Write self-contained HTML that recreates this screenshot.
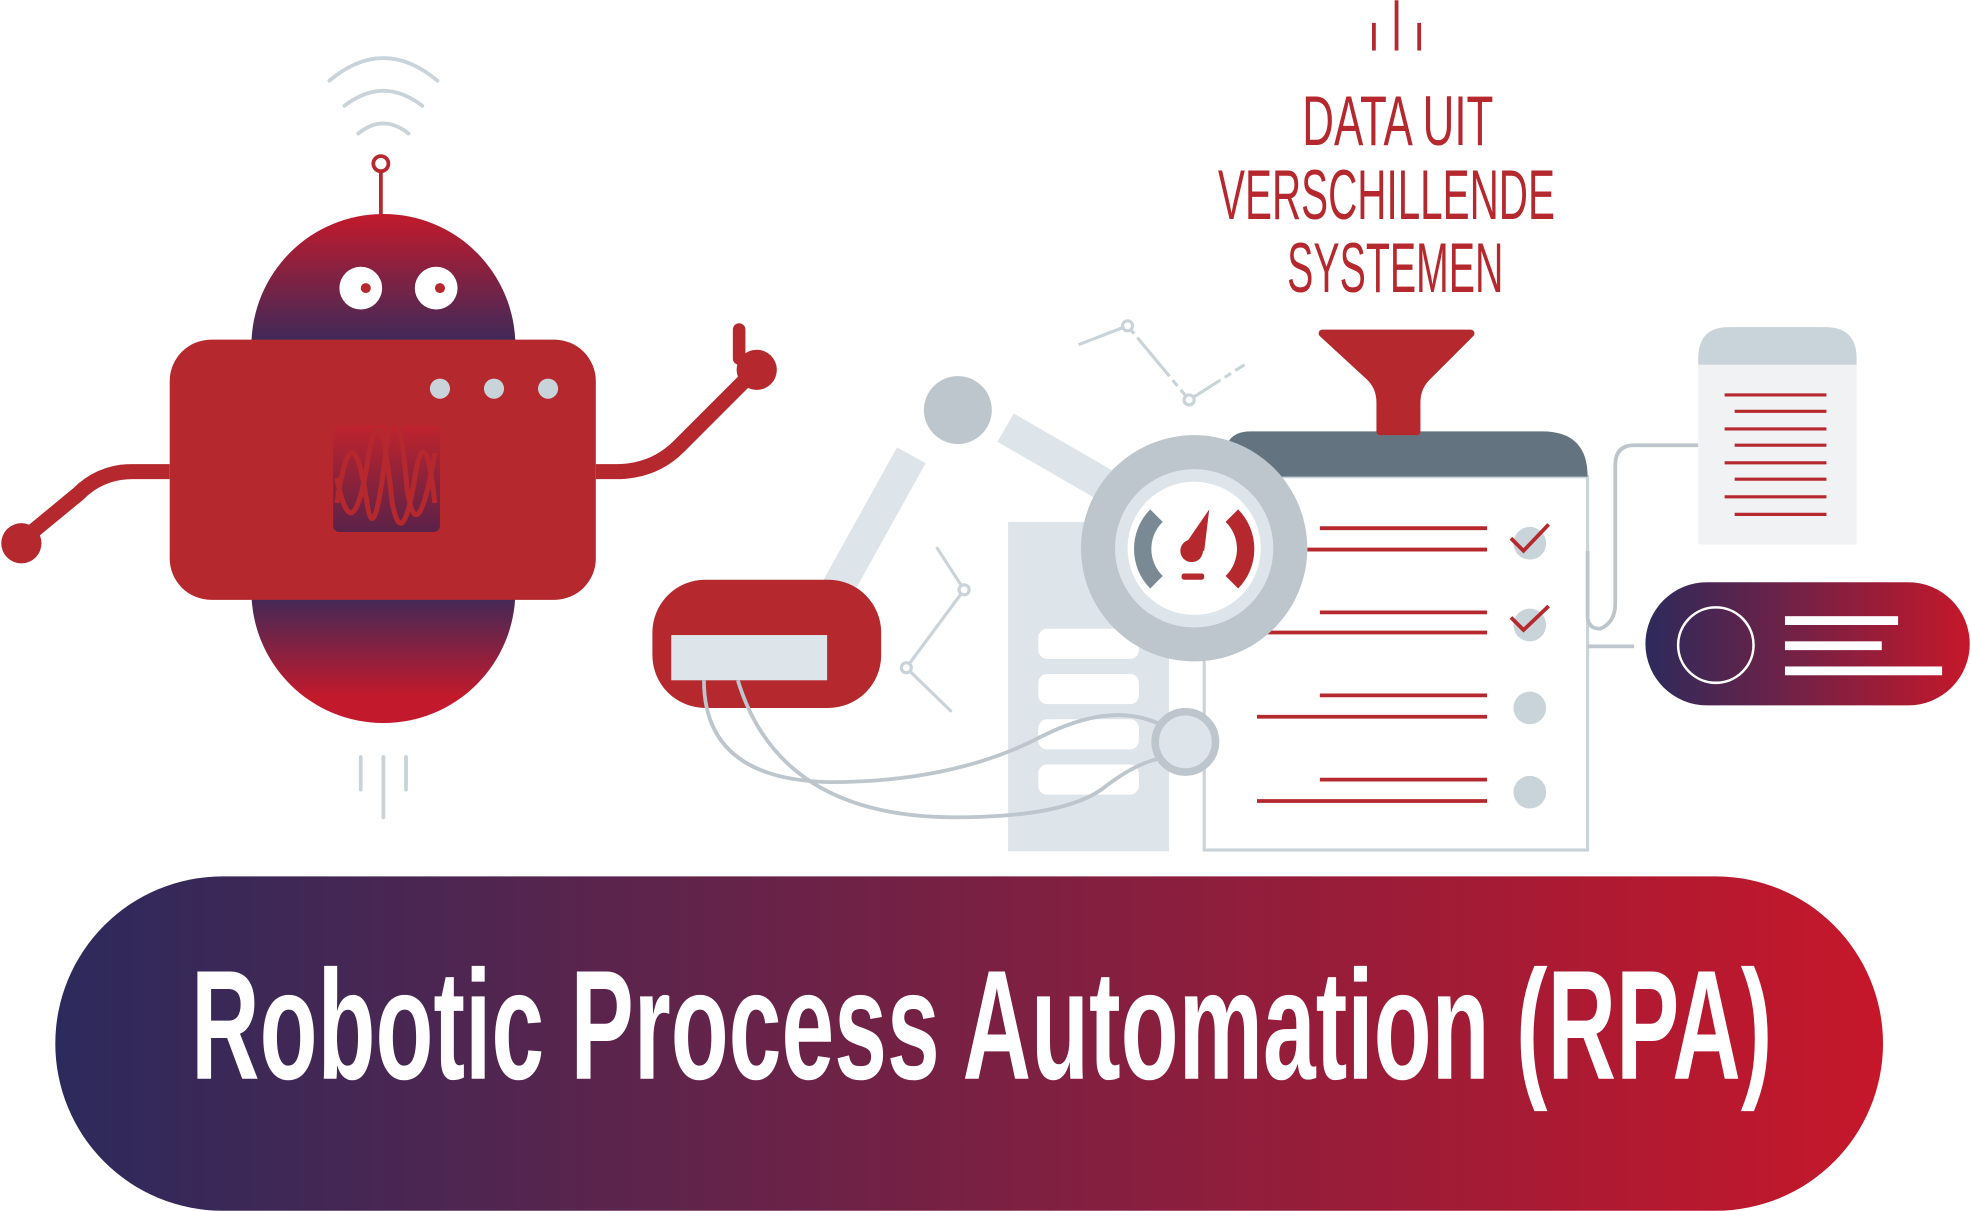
<!DOCTYPE html>
<html><head><meta charset="utf-8"><style>html,body{margin:0;padding:0;background:#fff}svg{display:block}</style></head><body>
<svg width="1971" height="1211" viewBox="0 0 1568 963" xmlns="http://www.w3.org/2000/svg">
<defs>
<linearGradient id="ban" x1="0" x2="1"><stop offset="0" stop-color="#2c2a5c"/><stop offset="1" stop-color="#c6172a"/></linearGradient>
<linearGradient id="head" x1="0" y1="0" x2="0" y2="1"><stop offset="0" stop-color="#c21a2c"/><stop offset="1" stop-color="#3a2a5a"/></linearGradient>
<linearGradient id="foot" x1="0" y1="0" x2="0" y2="1"><stop offset="0" stop-color="#3a2a5a"/><stop offset="0.8" stop-color="#c21a2c"/></linearGradient>
<linearGradient id="scr" x1="0" y1="0" x2="0" y2="1"><stop offset="0" stop-color="#c0232d"/><stop offset="1" stop-color="#5a2248"/></linearGradient>
</defs>
<!-- banner -->
<rect x="44" y="697" width="1454" height="266" rx="133" fill="url(#ban)"/>
<text x="152" y="858" font-family="Liberation Sans Narrow, Liberation Sans, sans-serif" font-weight="bold" font-size="124" fill="#fff" textLength="1258" lengthAdjust="spacingAndGlyphs">Robotic Process Automation (RPA)</text>
<!-- robot -->
<g fill="none" stroke="#c9d3da" stroke-width="3" stroke-linecap="round">
<path d="M262 64 Q305 28 348 64"/><path d="M274 84 Q305 60 336 84"/><path d="M285 106 Q305 90 325 106"/>
<path d="M287 602 V628 M305 602 V650 M323 602 V628"/>
</g>
<line x1="303" y1="136" x2="303" y2="175" stroke="#b5282d" stroke-width="3"/>
<circle cx="303" cy="130" r="6" fill="#fff" stroke="#b5282d" stroke-width="3"/>
<path d="M200 275 A105 105 0 0 1 410 275 Z" fill="url(#head)"/>
<path d="M200 470 A105 105 0 0 0 410 470 Z" fill="url(#foot)"/>
<path d="M135 375 H105 Q80 375 62 393 L17 430" fill="none" stroke="#b5282d" stroke-width="12"/>
<circle cx="17" cy="432" r="16" fill="#b5282d"/>
<path d="M474 375 H490 Q520 375 540 355 L600 295" fill="none" stroke="#b5282d" stroke-width="12"/>
<line x1="588" y1="262" x2="588" y2="285" stroke="#b5282d" stroke-width="10" stroke-linecap="round"/>
<circle cx="602" cy="294" r="16" fill="#b5282d"/>
<rect x="135" y="270" width="339" height="207" rx="33" fill="#b5282d"/>
<circle cx="287" cy="229" r="17" fill="#fff"/><circle cx="291" cy="229" r="4" fill="#b5282d"/>
<circle cx="347" cy="229" r="17" fill="#fff"/><circle cx="350" cy="229" r="4" fill="#b5282d"/>
<circle cx="350" cy="309" r="8" fill="#c9d3da"/><circle cx="393" cy="309" r="8" fill="#c9d3da"/><circle cx="436" cy="309" r="8" fill="#c9d3da"/>
<rect x="265" y="338" width="85" height="85" rx="5" fill="url(#scr)"/>
<path d="M268 400 Q280 320 292 400 Q298 440 308 350 Q316 300 324 390 Q332 440 346 360" fill="none" stroke="#b5282d" stroke-width="4"/>
<path d="M268 380 Q280 440 292 370 Q302 300 312 400 Q320 440 330 380 Q338 330 346 400" fill="none" stroke="#b5282d" stroke-width="4"/>
<!-- top text -->
<g stroke="#b5282d" stroke-width="3"><line x1="1093" y1="18" x2="1093" y2="40"/><line x1="1111" y1="0" x2="1111" y2="40"/><line x1="1129" y1="18" x2="1129" y2="40"/></g>
<g font-family="Liberation Sans Narrow, Liberation Sans, sans-serif" font-size="56" fill="#b5282d" text-anchor="middle">
<text x="1112" y="115" textLength="152" lengthAdjust="spacingAndGlyphs">DATA UIT</text>
<text x="1103" y="174" textLength="268" lengthAdjust="spacingAndGlyphs">VERSCHILLENDE</text>
<text x="1110" y="232" textLength="172" lengthAdjust="spacingAndGlyphs">SYSTEMEN</text>
</g>
<!-- small connector lines -->
<g fill="none" stroke="#c9d3da" stroke-width="2.5">
<path d="M858 274 L897 259 L946 318 L990 290" stroke-dasharray="40 4 6 4"/>
<path d="M745 435 L767 469 L721 531 L757 566"/>
</g>
<g fill="#fff" stroke="#c9d3da" stroke-width="2.5"><circle cx="897" cy="259" r="4"/><circle cx="946" cy="318" r="4"/><circle cx="767" cy="469" r="4"/><circle cx="721" cy="531" r="4"/></g>
<!-- arm -->
<path d="M665 470 L725 362" stroke="#dde4ea" stroke-width="26"/>
<path d="M800 340 L890 392" stroke="#dde4ea" stroke-width="26"/>
<circle cx="762" cy="326" r="27" fill="#bcc6cc"/>
<!-- left doc -->
<rect x="802" y="415" width="128" height="262" fill="#dde4ea"/>
<g fill="#fff"><rect x="826" y="500" width="80" height="24" rx="7"/><rect x="826" y="536" width="80" height="24" rx="7"/><rect x="826" y="572" width="80" height="24" rx="7"/><rect x="826" y="608" width="80" height="24" rx="7"/></g>
<!-- window -->
<rect x="958" y="379" width="305" height="297" fill="#fff" stroke="#c9d3da" stroke-width="2.5"/>
<path d="M975 379 V362 Q975 343 995 343 H1227 Q1263 343 1263 379 Z" fill="#637480"/>
<path d="M1052 265 H1170 L1135 300 Q1127 308 1127 320 V343 H1098 V320 Q1098 308 1090 300 Z" fill="#b5282d" stroke="#b5282d" stroke-width="6" stroke-linejoin="round"/>
<g stroke="#b5282d" stroke-width="3">
<line x1="1050" y1="420" x2="1183" y2="420"/><line x1="1040" y1="437" x2="1183" y2="437"/>
<line x1="1050" y1="487" x2="1183" y2="487"/><line x1="1005" y1="503" x2="1183" y2="503"/>
<line x1="1050" y1="553" x2="1183" y2="553"/><line x1="1000" y1="570" x2="1183" y2="570"/>
<line x1="1050" y1="620" x2="1183" y2="620"/><line x1="1000" y1="637" x2="1183" y2="637"/>
</g>
<g fill="#c9d3da"><circle cx="1217" cy="432" r="13"/><circle cx="1217" cy="497" r="13"/><circle cx="1217" cy="563" r="13"/><circle cx="1217" cy="630" r="13"/></g>
<g fill="none" stroke="#b5282d" stroke-width="3"><path d="M1202 428 L1212 438 L1232 417"/><path d="M1202 491 L1212 501 L1232 482"/></g>
<!-- gauge -->
<circle cx="950" cy="436" r="90" fill="#bcc6cc"/>
<circle cx="950" cy="436" r="63" fill="#dde4ea"/>
<circle cx="950" cy="436" r="53" fill="#fff"/>
<path d="M915 405 A45 45 0 0 0 915 468 L925 458 A30 30 0 0 1 925 415 Z" fill="#7a8a95"/>
<path d="M985 405 A45 45 0 0 1 985 468 L975 458 A30 30 0 0 0 975 415 Z" fill="#b5282d"/>
<path d="M940 437 L962 405 L958 438 Z" fill="#b5282d"/><circle cx="948" cy="438" r="9" fill="#b5282d"/>
<rect x="940" y="456" width="18" height="5" rx="2" fill="#b5282d"/>
<!-- red box & wires -->
<rect x="519" y="461" width="182" height="102" rx="42" fill="#b5282d"/>
<rect x="534" y="505" width="124" height="36" fill="#dde4ea"/>
<g fill="none" stroke="#bcc6cc" stroke-width="3">
<path d="M560 541 Q560 620 660 622 Q760 622 830 585 Q900 550 943 590"/>
<path d="M587 541 Q620 650 760 650 Q850 650 880 625 Q920 595 943 605"/>
<path d="M1263 438 V490 Q1263 500 1273 500 Q1285 495 1285 480 V370 Q1285 354 1300 354 H1351"/>
<path d="M1263 514 H1300"/>
</g>
<circle cx="943" cy="590" r="24" fill="#dde4ea" stroke="#bcc6cc" stroke-width="6"/>
<!-- right doc -->
<rect x="1351" y="290" width="126" height="143" fill="#f0f2f4"/>
<path d="M1351 290 V285 Q1351 260 1375 260 H1452 Q1477 260 1477 285 V290 Z" fill="#c9d3da"/>
<g stroke="#b5282d" stroke-width="2.5"><line x1="1372" y1="314" x2="1453" y2="314"/><line x1="1380" y1="327" x2="1453" y2="327"/><line x1="1372" y1="341" x2="1453" y2="341"/><line x1="1380" y1="354" x2="1453" y2="354"/><line x1="1372" y1="368" x2="1453" y2="368"/><line x1="1380" y1="381" x2="1453" y2="381"/><line x1="1372" y1="395" x2="1453" y2="395"/><line x1="1380" y1="409" x2="1453" y2="409"/></g>
<!-- right pill -->
<rect x="1309" y="463" width="258" height="98" rx="49" fill="url(#ban)"/>
<circle cx="1365" cy="513" r="30" fill="none" stroke="#fff" stroke-width="2"/>
<g fill="#fff"><rect x="1420" y="490" width="90" height="7"/><rect x="1420" y="510" width="77" height="7"/><rect x="1420" y="530" width="125" height="7"/></g>
</svg>
</body></html>
